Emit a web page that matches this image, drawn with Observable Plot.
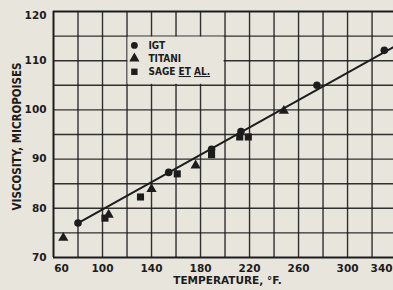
<!DOCTYPE html>
<html><head><meta charset="utf-8">
<script src="https://cdn.jsdelivr.net/npm/d3@7"></script>
<script src="https://cdn.jsdelivr.net/npm/@observablehq/plot@0.6"></script>
<style>
html,body{margin:0;padding:0;background:#e8e5dc;overflow:hidden;width:393px;height:290px}
#chart svg{display:block}
</style></head><body><div id="chart"></div>
<script>
// Data
const igtTemp = [80, 154, 189, 213, 275, 330];
const igtVisc = [77.0, 87.3, 92.0, 95.6, 105.0, 112.1];
const titaniTemp = [68, 105, 140, 176, 248];
const titaniVisc = [74.0, 78.7, 83.9, 88.7, 99.8];
const sageTemp = [102, 131, 161, 189, 212, 219];
const sageVisc = [78.0, 82.3, 87.0, 90.9, 94.5, 94.5];
const fitTemp = [80, 340];
const fitVisc = [77.0, 113.1];
const xTicks = [60, 100, 140, 180, 220, 260, 300, 340];
const yTicks = [70, 80, 90, 100, 110, 120];
const xGrid = [80, 100, 120, 140, 160, 180, 200, 220, 240, 260, 280, 300, 320];
const yGrid = [75, 80, 85, 90, 95, 100, 105, 110, 115];
const legendLabels = ["IGT", "TITANI", "SAGE ET AL."];
const xTitle = "TEMPERATURE, °F.";
const yTitle = "VISCOSITY, MICROPOISES";

const ink = "#1c1c1c";
const bg = "#e8e5dc";
const font = "DejaVu Sans";
const condensed = "DejaVu Sans Condensed, DejaVu Sans";

const toRows = (xs, ys) => xs.map((t, i) => ({t, v: ys[i]}));
const igt = toRows(igtTemp, igtVisc);
const titani = toRows(titaniTemp, titaniVisc);
const sage = toRows(sageTemp, sageVisc);
const fit = toRows(fitTemp, fitVisc);

const axisText = {tickSize: 0, fontSize: 10.5, fontWeight: "bold", fill: ink, label: null};

const chart = Plot.plot({
  width: 393,
  height: 290,
  marginLeft: 53,
  marginRight: 0,
  marginTop: 11,
  marginBottom: 33,
  style: {background: bg, fontFamily: font, color: ink},
  x: {domain: [60, 337.5], axis: null},
  y: {domain: [70, 120], axis: null},
  marks: [
    Plot.gridX(xGrid, {stroke: ink, strokeOpacity: 0.9, strokeWidth: 1.4}),
    Plot.gridY(yGrid, {stroke: ink, strokeOpacity: 0.9, strokeWidth: 1.4}),
    Plot.ruleX([60], {stroke: ink, strokeWidth: 2}),
    Plot.ruleY([70, 120], {stroke: ink, strokeWidth: 2}),
    // legend box (masks the grid behind the key)
    Plot.rect([0], {x1: () => 120, x2: () => 200, y1: () => 105, y2: () => 115, fill: bg, inset: 1}),
    // fitted line
    Plot.line(fit, {x: "t", y: "v", stroke: ink, strokeWidth: 2, clip: true}),
    // data
    Plot.dot(igt, {x: "t", y: "v", symbol: "circle", r: 3.8, fill: ink}),
    Plot.dot(titani, {x: "t", y: "v", symbol: "triangle", r: 3.8, fill: ink}),
    Plot.dot(sage, {x: "t", y: "v", symbol: "square", r: 4, fill: ink}),
    // legend
    Plot.dot([legendLabels[0]], {x: () => 126, y: () => 113.1, symbol: "circle", r: 3.4, fill: ink}),
    Plot.dot([legendLabels[1]], {x: () => 126, y: () => 110.45, symbol: "triangle", r: 3.8, fill: ink}),
    Plot.dot([legendLabels[2]], {x: () => 126, y: () => 107.75, symbol: "square", r: 3.6, fill: ink}),
    Plot.text(legendLabels, {
      x: () => 137.5, y: (d, i) => 113.1 - i * 2.68, text: d => d,
      textAnchor: "start", fontSize: 10, fontWeight: "bold", fill: ink,
      fontFamily: condensed
    }),
    // axes
    Plot.axisX(xTicks.slice(1, -1), {...axisText, tickPadding: 7}),
    Plot.axisX([xTicks[0]], {...axisText, tickPadding: 7, dx: 8}),
    Plot.axisX([xTicks[xTicks.length - 1]], {...axisText, tickPadding: 7, dx: -15}),
    Plot.axisY(yTicks.slice(0, -1), {...axisText, tickPadding: 7}),
    Plot.axisY([yTicks[yTicks.length - 1]], {...axisText, tickPadding: 7, dy: 4}),
    // axis titles
    Plot.text([xTitle], {frameAnchor: "bottom", dy: 26, dx: 4, fontSize: 10.5, fontWeight: "bold", fill: ink}),
    Plot.text([yTitle], {frameAnchor: "left", textAnchor: "middle", rotate: -90, dx: -36, dy: 2, fontSize: 11.5, fontWeight: "bold", fill: ink, fontFamily: condensed})
  ]
});

document.getElementById("chart").appendChild(chart);

chart.querySelectorAll("text").forEach(t => {
  const s = t.textContent.trim();
  // underline "ET AL." in the key
  if (s === "SAGE ET AL.") {
    t.innerHTML = 'SAGE <tspan text-decoration="underline">ET</tspan> <tspan text-decoration="underline">AL.</tspan>';
  }
  if (s === yTitle) {
    t.style.fontStretch = "condensed";
  }
});
</script>
</body></html>
